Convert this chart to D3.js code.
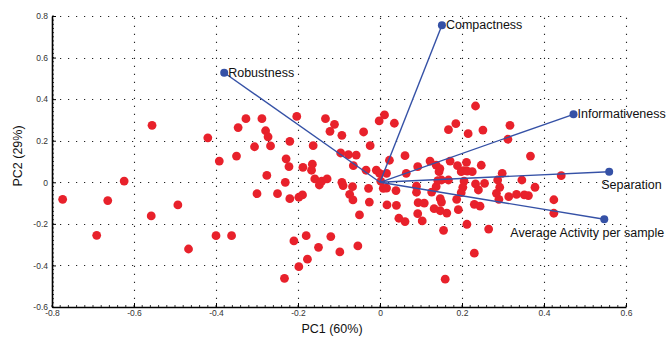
<!DOCTYPE html>
<html>
<head>
<meta charset="utf-8">
<script src="https://cdn.jsdelivr.net/npm/d3@7"></script>
<style>
  html, body { margin: 0; padding: 0; background: #fff; }
  text { font-family: "Liberation Sans", Arial, Helvetica, sans-serif; }
</style>
</head>
<body>
<svg id="chart" width="670" height="341"></svg>
<script>
// Sample scores (PC1, PC2)
const pc1 = [-0.774,-0.691,-0.664,-0.624,-0.558,-0.493,-0.467,-0.400,-0.362,-0.300,-0.276,-0.250,-0.231,-0.220,-0.198,-0.189,-0.159,-0.148,-0.142,-0.129,-0.210,-0.180,-0.150,-0.177,-0.198,-0.233,-0.120,
  -0.556,-0.420,-0.392,-0.350,-0.346,-0.327,-0.306,-0.288,-0.279,-0.273,-0.267,-0.229,-0.222,-0.220,-0.203,-0.188,-0.165,-0.163,-0.133,-0.122,-0.111,
  0.233,0.011,-0.002,0.035,-0.093,-0.040,-0.024,0.167,0.185,0.215,0.251,0.317,0.312,0.367,0.061,0.023,-0.096,-0.077,-0.058,0.122,0.137,0.146,0.171,0.189,0.211,0.247,0.092,-0.065,
  -0.034,-0.009,-0.001,0.016,0.064,-0.167,-0.093,-0.090,-0.067,-0.028,0.002,0.008,0.039,0.089,0.089,-0.074,-0.066,-0.026,-0.050,0.017,0.040,0.046,0.061,0.093,0.108,0.092,0.103,-0.098,-0.054,
  0.442,0.424,0.424,0.378,0.362,0.352,0.333,0.314,0.290,0.284,0.292,0.287,0.346,0.298,0.255,0.233,0.240,0.205,0.202,0.198,0.187,0.191,0.230,0.244,0.212,0.265,0.230,0.159,0.155,0.163,0.147,0.132,0.150,0.147,0.126,0.137,0.141,0.150,0.167,0.144,0.198,0.225,0.204,0.213,0.016];
const pc2 = [-0.082,-0.255,-0.088,0.006,-0.162,-0.109,-0.321,-0.257,-0.257,-0.055,0.033,-0.055,0.000,-0.079,-0.072,-0.061,0.016,-0.013,0.006,0.016,-0.282,-0.257,-0.313,-0.370,-0.406,-0.462,-0.261,
  0.274,0.214,0.102,0.126,0.263,0.306,0.171,0.306,0.248,0.219,0.175,0.113,0.075,0.197,0.317,0.072,0.087,0.176,0.306,0.245,0.279,
  0.367,0.324,0.295,0.284,0.226,0.242,0.176,0.253,0.282,0.234,0.251,0.274,0.207,0.126,0.128,0.106,0.141,0.133,0.131,0.102,0.083,0.066,0.102,0.080,0.096,0.082,0.075,0.080,
  0.058,0.058,0.043,0.043,0.043,0.058,0.000,-0.016,-0.021,-0.029,0.005,-0.029,-0.040,-0.019,-0.048,-0.058,-0.085,-0.095,-0.157,-0.109,-0.111,-0.173,-0.189,-0.098,-0.100,-0.151,-0.186,-0.335,-0.306,
  0.032,-0.084,-0.149,-0.024,-0.064,-0.061,-0.058,-0.069,-0.082,-0.053,-0.024,0.011,0.011,0.043,-0.005,-0.008,-0.037,0.006,-0.024,-0.050,-0.082,-0.132,-0.106,-0.115,-0.202,-0.225,-0.341,-0.466,-0.231,-0.148,-0.137,-0.127,-0.095,-0.079,-0.047,-0.021,0.008,0.011,0.011,0.051,0.051,0.051,0.056,0.054,-0.028];

// Variable loadings
const loadingNames = ["Robustness","Compactness","Informativeness","Separation","Average Activity per sample"];
const loadingX = [-0.380, 0.151, 0.472, 0.559, 0.547];
const loadingY = [0.527, 0.756, 0.327, 0.051, -0.178];

const xTicks = [-0.8,-0.6,-0.4,-0.2,0,0.2,0.4,0.6];
const yTicks = [-0.6,-0.4,-0.2,0,0.2,0.4,0.6,0.8];
const xLabel = "PC1 (60%)";
const yLabel = "PC2 (29%)";

const svg = d3.select("#chart");
const x = d3.scaleLinear().domain([-0.8, 0.6]).range([52, 626]);
const y = d3.scaleLinear().domain([-0.6, 0.8]).range([307, 16]);
const fmt = d => d === 0 ? "0" : d3.format(".1f")(d).replace("−","-");

// grid
const grid = svg.append("g").attr("stroke", "#222").attr("stroke-width", 1.1).attr("stroke-dasharray", "1.2,6.8").attr("fill", "none");
xTicks.slice(1).forEach(t => grid.append("line").attr("x1", Math.round(x(t))+0.5).attr("x2", Math.round(x(t))+0.5).attr("y1", y(-0.6)).attr("y2", y(0.8)));
yTicks.slice(1).forEach(t => grid.append("line").attr("y1", Math.round(y(t))+0.5).attr("y2", Math.round(y(t))+0.5).attr("x1", x(-0.8)).attr("x2", x(0.6)));

// axes
const minorX = d3.range(-0.8, 0.6001, 0.02);
const minorY = d3.range(-0.6, 0.8001, 0.02);
const xAxis = d3.axisBottom(x).tickValues(xTicks).tickFormat(fmt).tickSizeInner(-4).tickSizeOuter(0).tickPadding(7);
const yAxis = d3.axisLeft(y).tickValues(yTicks).tickFormat(fmt).tickSizeInner(-4).tickSizeOuter(0).tickPadding(4);
const gx = svg.append("g").attr("transform", "translate(0,307)").call(xAxis);
const gy = svg.append("g").attr("transform", "translate(52,0)").call(yAxis);
[gx, gy].forEach(g => {
  g.select(".domain").attr("stroke", "#000").attr("stroke-width", 1.6);
  g.selectAll(".tick line").attr("stroke", "#000").attr("stroke-width", 1);
  g.selectAll(".tick text").attr("font-size", 8.5).attr("fill", "#333").attr("font-family", "Liberation Sans, Arial, sans-serif");
});
gx.selectAll(".tick text").attr("dy", "0.2em");
svg.append("g").selectAll("line").data(minorX).join("line")
  .attr("x1", d => x(d)).attr("x2", d => x(d)).attr("y1", 307).attr("y2", 305)
  .attr("stroke", "#000").attr("stroke-width", 0.8);
svg.append("g").selectAll("line").data(minorY).join("line")
  .attr("y1", d => y(d)).attr("y2", d => y(d)).attr("x1", 52).attr("x2", 54)
  .attr("stroke", "#000").attr("stroke-width", 0.8);

// axis labels
svg.append("text").attr("x", 332).attr("y", 333).attr("text-anchor", "middle").attr("font-size", 12.5).attr("fill", "#111").text(xLabel);
svg.append("text").attr("transform", "translate(22,156) rotate(-90)").attr("text-anchor", "middle").attr("font-size", 12.5).attr("fill", "#111").text(yLabel);

// points
const pts = pc1.map((v, i) => ({x: v, y: pc2[i]}));
svg.append("g").selectAll("circle").data(pts).join("circle")
  .attr("cx", d => x(d.x)).attr("cy", d => y(d.y)).attr("r", 4.4).attr("fill", "#e8212b");

// loadings
const loads = loadingNames.map((n, i) => ({name: n, x: loadingX[i], y: loadingY[i]}));
const lg = svg.append("g");
lg.selectAll("line").data(loads).join("line")
  .attr("x1", x(0)).attr("y1", y(0)).attr("x2", d => x(d.x)).attr("y2", d => y(d.y))
  .attr("stroke", "#3551a6").attr("stroke-width", 1.4);
lg.selectAll("circle").data(loads).join("circle")
  .attr("cx", d => x(d.x)).attr("cy", d => y(d.y)).attr("r", 4).attr("fill", "#3551a6");
const labelOffsets = [[4, 4, "start"], [4, 4, "start"], [4, 4, "start"], [-8, 17, "start"], [-94, 18, "start"]];
lg.selectAll("text").data(loads).join("text")
  .attr("x", (d, i) => x(d.x) + labelOffsets[i][0])
  .attr("y", (d, i) => y(d.y) + labelOffsets[i][1])
  .attr("text-anchor", (d, i) => labelOffsets[i][2])
  .attr("font-size", 12.5).attr("fill", "#111").text(d => d.name);
</script>
</body>
</html>
